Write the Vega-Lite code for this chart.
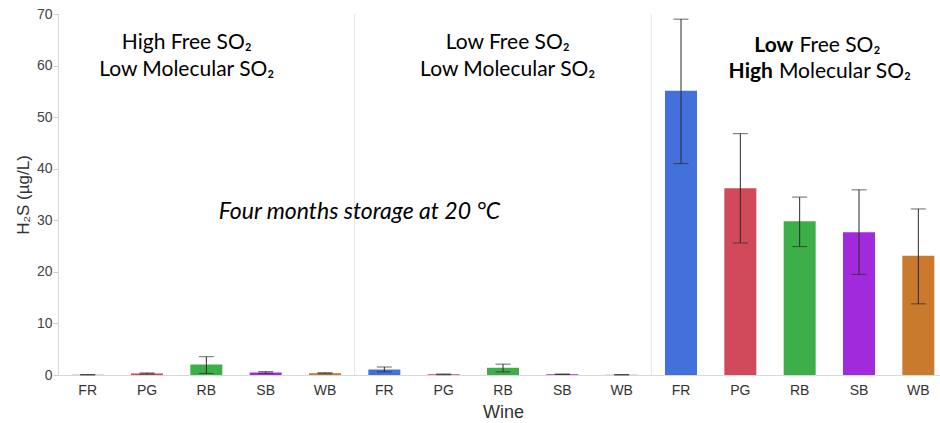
{
  "$schema": "https://vega.github.io/schema/vega-lite/v6.json",
  "width": 890,
  "height": 361,
  "autosize": {"type": "none"},
  "padding": {"left": 58, "top": 14, "right": 0, "bottom": 48},
  "config": {"view": {"stroke": null}, "font": "Liberation Sans"},
  "datasets": {
    "bars": [
      {"key": "1-FR", "wine": "FR", "h2s": 0.05, "lo": 0.0, "hi": 0.1},
      {"key": "1-PG", "wine": "PG", "h2s": 0.3, "lo": 0.2, "hi": 0.4},
      {"key": "1-RB", "wine": "RB", "h2s": 2.05, "lo": 0.3, "hi": 3.55},
      {"key": "1-SB", "wine": "SB", "h2s": 0.5, "lo": 0.35, "hi": 0.65},
      {"key": "1-WB", "wine": "WB", "h2s": 0.35, "lo": 0.25, "hi": 0.45},
      {"key": "2-FR", "wine": "FR", "h2s": 1.05, "lo": 0.6, "hi": 1.55},
      {"key": "2-PG", "wine": "PG", "h2s": 0.15, "lo": 0.05, "hi": 0.2},
      {"key": "2-RB", "wine": "RB", "h2s": 1.4, "lo": 0.6, "hi": 2.1},
      {"key": "2-SB", "wine": "SB", "h2s": 0.15, "lo": 0.1, "hi": 0.2},
      {"key": "2-WB", "wine": "WB", "h2s": 0.05, "lo": 0.0, "hi": 0.1},
      {"key": "3-FR", "wine": "FR", "h2s": 55.1, "lo": 41.0, "hi": 69.0},
      {"key": "3-PG", "wine": "PG", "h2s": 36.2, "lo": 25.6, "hi": 46.8},
      {"key": "3-RB", "wine": "RB", "h2s": 29.8, "lo": 24.9, "hi": 34.5},
      {"key": "3-SB", "wine": "SB", "h2s": 27.7, "lo": 19.5, "hi": 35.9},
      {"key": "3-WB", "wine": "WB", "h2s": 23.1, "lo": 13.8, "hi": 32.2}
    ],
    "dividers": [{"key": "1-WB"}, {"key": "2-WB"}],
    "titleLeft": [
      {"key": "1-RB", "y": 63.2, "text": "High Free SO₂"},
      {"key": "1-RB", "y": 58.0, "text": "Low Molecular SO₂"}
    ],
    "titleMid": [
      {"key": "2-RB", "y": 63.2, "text": "Low Free SO₂"},
      {"key": "2-RB", "y": 58.0, "text": "Low Molecular SO₂"}
    ],
    "r1": [{"key": "3-RB", "y": 62.7, "bold": "Low", "rest": "Free SO₂"}],
    "r2": [{"key": "3-RB", "y": 57.5, "bold": "High", "rest": "Molecular SO₂"}],
    "note": [{"key": "1-WB", "y": 30.3, "text": "Four months storage at 20 °C"}]
  },
  "layer": [
    {
      "data": {"name": "bars"},
      "mark": {"type": "bar", "width": 32},
      "encoding": {
        "x": {"field": "key", "type": "nominal", "title": "Wine",
              "scale": {"domain": ["1-FR","1-PG","1-RB","1-SB","1-WB","2-FR","2-PG","2-RB","2-SB","2-WB","3-FR","3-PG","3-RB","3-SB","3-WB"], "paddingInner": 0, "paddingOuter": 0},
              "axis": {"labelExpr": "substring(datum.value, 2)", "labelAngle": 0, "ticks": false, "domainColor": "#d9d9d9", "labelFontSize": 14, "labelColor": "#333", "labelPadding": 8, "titleFontSize": 18, "titleFontWeight": "normal", "titleColor": "#333", "titlePadding": 6}},
        "y": {"field": "h2s", "type": "quantitative", "title": "H₂S (µg/L)",
              "scale": {"domain": [0, 70], "nice": false},
              "axis": {"values": [0,10,20,30,40,50,60,70], "grid": false, "domainColor": "#d9d9d9", "tickColor": "#cfcfcf", "tickSize": 5, "labelFontSize": 14, "labelColor": "#444", "labelPadding": 1, "titleFontSize": 17, "titleFontWeight": "normal", "titleColor": "#333", "titlePadding": 4}},
        "color": {"field": "wine", "type": "nominal", "legend": null,
                  "scale": {"domain": ["FR","PG","RB","SB","WB"], "range": ["#4470DB","#D04A5B","#3DAF48","#A02ADC","#C97A2C"]}}
      }
    },
    {
      "data": {"name": "dividers"},
      "mark": {"type": "rule", "color": "#e4e4e4", "strokeWidth": 1},
      "encoding": {
        "x": {"field": "key", "type": "nominal", "bandPosition": 1},
        "y": {"datum": 0, "type": "quantitative"},
        "y2": {"datum": 70}
      }
    },
    {
      "data": {"name": "bars"},
      "mark": {"type": "rule", "color": "#2a2a2a", "strokeWidth": 1},
      "encoding": {
        "x": {"field": "key", "type": "nominal"},
        "y": {"field": "lo", "type": "quantitative"},
        "y2": {"field": "hi"}
      }
    },
    {
      "data": {"name": "bars"},
      "mark": {"type": "tick", "color": "#2a2a2a", "size": 15, "thickness": 1, "orient": "horizontal"},
      "encoding": {
        "x": {"field": "key", "type": "nominal"},
        "y": {"field": "lo", "type": "quantitative"}
      }
    },
    {
      "data": {"name": "bars"},
      "mark": {"type": "tick", "color": "#2a2a2a", "size": 15, "thickness": 1, "orient": "horizontal"},
      "encoding": {
        "x": {"field": "key", "type": "nominal"},
        "y": {"field": "hi", "type": "quantitative"}
      }
    },
    {
      "data": {"name": "titleLeft"},
      "mark": {"type": "text", "font": "Lato", "fontSize": 21, "align": "center", "baseline": "alphabetic", "color": "#000"},
      "encoding": {
        "x": {"field": "key", "type": "nominal", "bandPosition": 0.17},
        "y": {"field": "y", "type": "quantitative"},
        "text": {"field": "text"}
      }
    },
    {
      "data": {"name": "titleMid"},
      "mark": {"type": "text", "font": "Lato", "fontSize": 21, "align": "center", "baseline": "alphabetic", "color": "#000"},
      "encoding": {
        "x": {"field": "key", "type": "nominal", "bandPosition": 0.58},
        "y": {"field": "y", "type": "quantitative"},
        "text": {"field": "text"}
      }
    },
    {
      "data": {"name": "r1"},
      "mark": {"type": "text", "font": "Lato", "fontSize": 21, "fontWeight": "bold", "align": "right", "baseline": "alphabetic", "color": "#000", "dx": -3},
      "encoding": {
        "x": {"field": "key", "type": "nominal", "bandPosition": 0.446},
        "y": {"field": "y", "type": "quantitative"},
        "text": {"field": "bold"}
      }
    },
    {
      "data": {"name": "r1"},
      "mark": {"type": "text", "font": "Lato", "fontSize": 21, "align": "left", "baseline": "alphabetic", "color": "#000", "dx": 3},
      "encoding": {
        "x": {"field": "key", "type": "nominal", "bandPosition": 0.446},
        "y": {"field": "y", "type": "quantitative"},
        "text": {"field": "rest"}
      }
    },
    {
      "data": {"name": "r2"},
      "mark": {"type": "text", "font": "Lato", "fontSize": 21, "fontWeight": "bold", "align": "right", "baseline": "alphabetic", "color": "#000", "dx": -3},
      "encoding": {
        "x": {"field": "key", "type": "nominal", "bandPosition": 0.1},
        "y": {"field": "y", "type": "quantitative"},
        "text": {"field": "bold"}
      }
    },
    {
      "data": {"name": "r2"},
      "mark": {"type": "text", "font": "Lato", "fontSize": 21, "align": "left", "baseline": "alphabetic", "color": "#000", "dx": 3},
      "encoding": {
        "x": {"field": "key", "type": "nominal", "bandPosition": 0.1},
        "y": {"field": "y", "type": "quantitative"},
        "text": {"field": "rest"}
      }
    },
    {
      "data": {"name": "note"},
      "mark": {"type": "text", "font": "Lato", "fontSize": 23, "fontStyle": "italic", "align": "center", "baseline": "alphabetic", "color": "#000"},
      "encoding": {
        "x": {"field": "key", "type": "nominal", "bandPosition": 1.08},
        "y": {"field": "y", "type": "quantitative"},
        "text": {"field": "text"}
      }
    }
  ]
}
